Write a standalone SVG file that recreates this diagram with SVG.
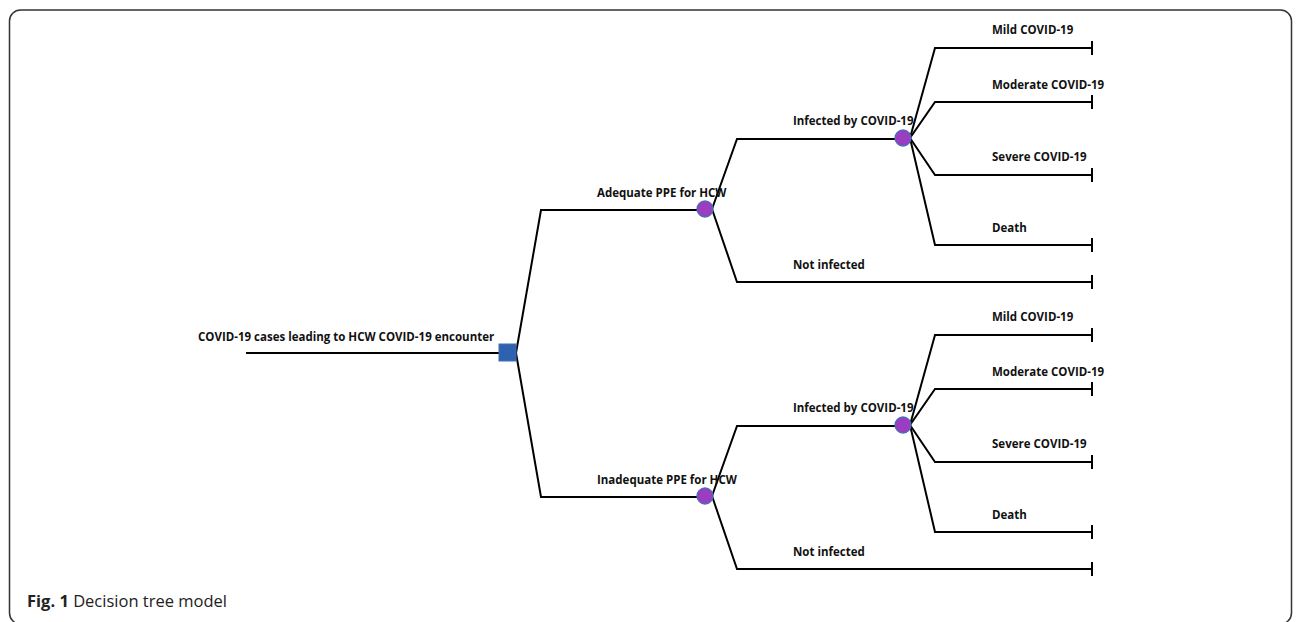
<svg xmlns="http://www.w3.org/2000/svg" width="1296" height="622" viewBox="0 0 1296 622">
<style>
.lbl{font-family:"Open Sans","Liberation Sans",sans-serif;font-weight:bold;font-size:11.5px;fill:#111}
.br{fill:none;stroke:#000;stroke-width:2;stroke-linejoin:miter}
.tick{stroke:#000;stroke-width:2}
.chance{fill:#9B3DC0;stroke:#4B6DB8;stroke-width:1.3}
.cap{font-family:"Open Sans","Liberation Sans",sans-serif;font-size:16.5px;fill:#222}
</style>
<rect x="9.5" y="10" width="1282" height="614" rx="11" ry="11" fill="#fff" stroke="#333" stroke-width="1.5"/>
<g id="connectors">
<path class="br" d="M246,353 H500"/>
<path class="br" d="M516,353 L541,210 H697"/>
<path class="br" d="M516,353 L541,497 H697"/>
<path class="br" d="M712,209 L737,139 H895"/>
<path class="br" d="M712,209 L737,282 H1092"/>
<path class="br" d="M910,138 L935,48 H1092"/>
<path class="br" d="M910,138 L935,102 H1092"/>
<path class="br" d="M910,138 L935,175 H1092"/>
<path class="br" d="M910,138 L935,245 H1092"/>
<path class="br" d="M712,496 L737,426 H895"/>
<path class="br" d="M712,496 L737,569 H1092"/>
<path class="br" d="M910,425 L935,335 H1092"/>
<path class="br" d="M910,425 L935,389 H1092"/>
<path class="br" d="M910,425 L935,462 H1092"/>
<path class="br" d="M910,425 L935,532 H1092"/>
</g>
<g id="root"><text class="lbl" x="198" y="341">COVID-19 cases leading to HCW COVID-19 encounter</text><rect x="499" y="344" width="17" height="17" fill="#2F62AE" stroke="#3F6FB8" stroke-width="1"/></g>
<g id="adequate"><text class="lbl" x="597" y="197">Adequate PPE for HCW</text><circle class="chance" cx="705" cy="209" r="8"/></g>
<g id="inadequate"><text class="lbl" x="597" y="484">Inadequate PPE for HCW</text><circle class="chance" cx="705" cy="496" r="8"/></g>
<g id="infected1"><text class="lbl" x="793" y="125">Infected by COVID-19</text><circle class="chance" cx="903" cy="138" r="8"/></g>
<g id="infected2"><text class="lbl" x="793" y="412">Infected by COVID-19</text><circle class="chance" cx="903" cy="425" r="8"/></g>
<g id="notinf1"><text class="lbl" x="793" y="269">Not infected</text><line class="tick" x1="1092" y1="275" x2="1092" y2="289"/></g>
<g id="notinf2"><text class="lbl" x="793" y="556">Not infected</text><line class="tick" x1="1092" y1="562" x2="1092" y2="576"/></g>
<g id="mild1"><text class="lbl" x="992" y="34">Mild COVID-19</text><line class="tick" x1="1092" y1="41" x2="1092" y2="55"/></g>
<g id="moderate1"><text class="lbl" x="992" y="89">Moderate COVID-19</text><line class="tick" x1="1092" y1="95" x2="1092" y2="109"/></g>
<g id="severe1"><text class="lbl" x="992" y="161">Severe COVID-19</text><line class="tick" x1="1092" y1="168" x2="1092" y2="182"/></g>
<g id="death1"><text class="lbl" x="992" y="232">Death</text><line class="tick" x1="1092" y1="238" x2="1092" y2="252"/></g>
<g id="mild2"><text class="lbl" x="992" y="321">Mild COVID-19</text><line class="tick" x1="1092" y1="328" x2="1092" y2="342"/></g>
<g id="moderate2"><text class="lbl" x="992" y="376">Moderate COVID-19</text><line class="tick" x1="1092" y1="382" x2="1092" y2="396"/></g>
<g id="severe2"><text class="lbl" x="992" y="448">Severe COVID-19</text><line class="tick" x1="1092" y1="455" x2="1092" y2="469"/></g>
<g id="death2"><text class="lbl" x="992" y="519">Death</text><line class="tick" x1="1092" y1="525" x2="1092" y2="539"/></g>
<text class="cap" x="27" y="607"><tspan font-weight="bold">Fig. 1</tspan> Decision tree model</text>
</svg>
